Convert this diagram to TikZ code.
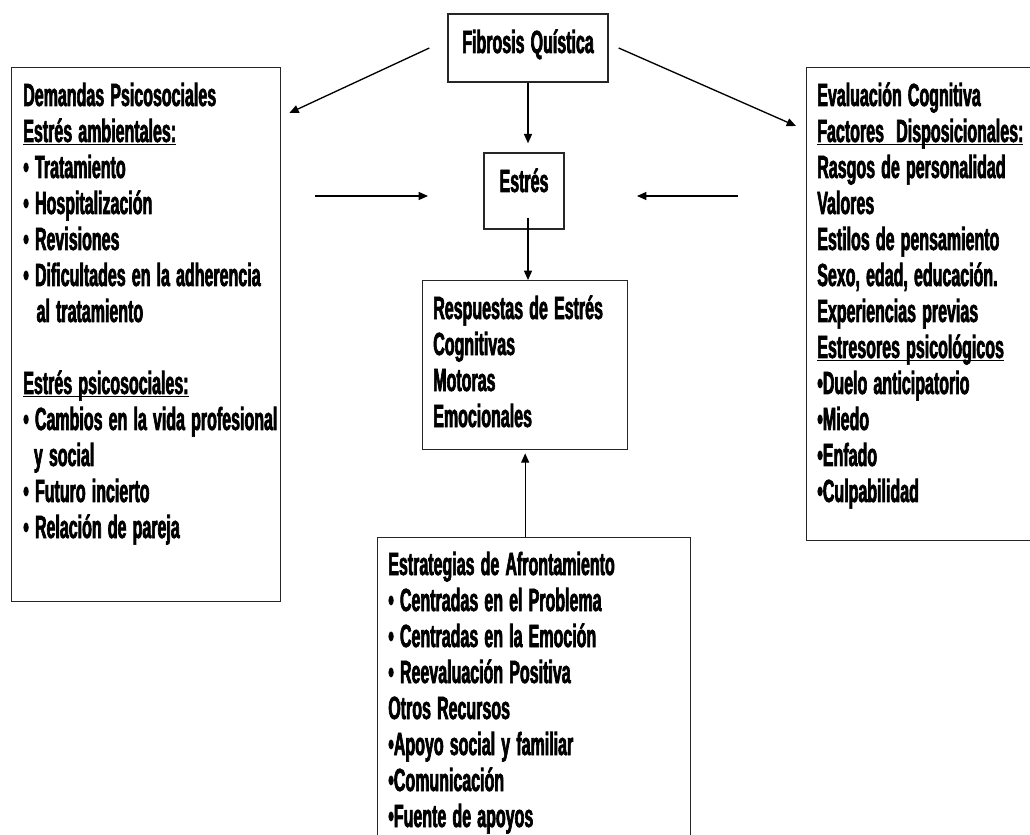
\documentclass[tikz,border=0pt]{standalone}
\usepackage{fontspec}
\newfontfamily\fuente{Liberation Sans}[FakeStretch=0.5,FakeBold=2]
\usetikzlibrary{arrows.meta}
\newcommand{\subrayado}[1]{\leavevmode\setbox0=\hbox{#1}\rlap{\rule[-2.5pt]{\wd0}{0.9pt}}\box0}
\tikzset{
  letra/.style={font=\fuente\bfseries\fontsize{24pt}{27pt}\selectfont,
    execute at begin node={\spaceskip=4.6pt plus 1pt minus 0.5pt\relax}},
  caja/.style={draw=black!85, line width=1pt, inner sep=0pt, letra},
  texto/.style={anchor=base west, inner sep=0pt, text width=260pt, align=left, letra},
  flecha/.style={-{Triangle[length=7pt,width=6pt]}, line width=1pt},
}
\begin{document}
\begin{tikzpicture}[x=0.75pt,y=-0.75pt]
        \useasboundingbox (0,0) rectangle (1030,834);
        \clip (0,0) rectangle (1030,834);
        % cajas
        \node[caja, minimum width=120pt, minimum height=51pt, text height=15pt, text depth=7.5pt] (fq) at (528,48) {Fibrosis Quística};
        \node[caja, minimum width=60pt, minimum height=57pt, text height=15pt, text depth=13.5pt] (es) at (524,191) {Estrés};
        \node[caja, anchor=north west, minimum width=201.75pt, minimum height=400.5pt] (dp) at (11,67) {};
        \node[caja, anchor=north west, minimum width=200pt, minimum height=354.75pt] (ec) at (806,67) {};
        \node[caja, anchor=north west, minimum width=153.75pt, minimum height=126.75pt] (rs) at (422,280) {};
        \node[caja, anchor=north west, minimum width=234.75pt, minimum height=240pt] (ea) at (377,537) {};
        % textos
        \node[texto] (tdp) at (23,106) {Demandas Psicosociales\\ \subrayado{Estrés ambientales:}\\ • Tratamiento\\ • Hospitalización\\ • Revisiones\\ • Dificultades en la adherencia\\ \hspace*{10pt}al tratamiento\\[27pt] \subrayado{Estrés psicosociales:}\\ • Cambios en la vida profesional\\ \hspace*{8pt}y social\\ • Futuro incierto\\ • Relación de pareja};
        \node[texto] (tec) at (817,106) {Evaluación Cognitiva\\ \subrayado{Factores\ \ Disposicionales:}\\ Rasgos de personalidad\\ Valores\\ Estilos de pensamiento\\ Sexo, edad, educación.\\ Experiencias previas\\ \subrayado{Estresores psicológicos}\\ •Duelo anticipatorio\\ •Miedo\\ •Enfado\\ •Culpabilidad};
        \node[texto] (trs) at (433,319) {Respuestas de Estrés\\ Cognitivas\\ Motoras\\ Emocionales};
        \node[texto] (tea) at (388,575) {Estrategias de Afrontamiento\\ • Centradas en el Problema\\ • Centradas en la Emoción\\ • Reevaluación Positiva\\ Otros Recursos\\ •Apoyo social y familiar\\ •Comunicación\\ •Fuente de apoyos};
        % flechas
        \draw[flecha] ([xshift=-13.5pt]fq.west) -- ([xshift=6pt,yshift=-34.5pt]dp.north east);
        \draw[flecha] ([xshift=7.5pt]fq.east) -- ([xshift=-7.5pt,yshift=-44.25pt]ec.north west);
        \draw[flecha, shorten >=6.75pt] (fq.south) -- (fq.south |- es.north);
        \draw[flecha, shorten <=-9pt] (fq.south |- es.south) -- (fq.south |- rs.north);
        \draw[flecha, shorten >=2.25pt] (ea.north -| rs.south) -- (rs.south);
        \coordinate (i1) at (315,196);
        \coordinate (i2) at (428,196);
        \coordinate (d1) at (738,196);
        \coordinate (d2) at (637,196);
        \draw[flecha] (i1) -- (i2);
        \draw[flecha] (d1) -- (d2);
    \end{tikzpicture}
\end{document}
